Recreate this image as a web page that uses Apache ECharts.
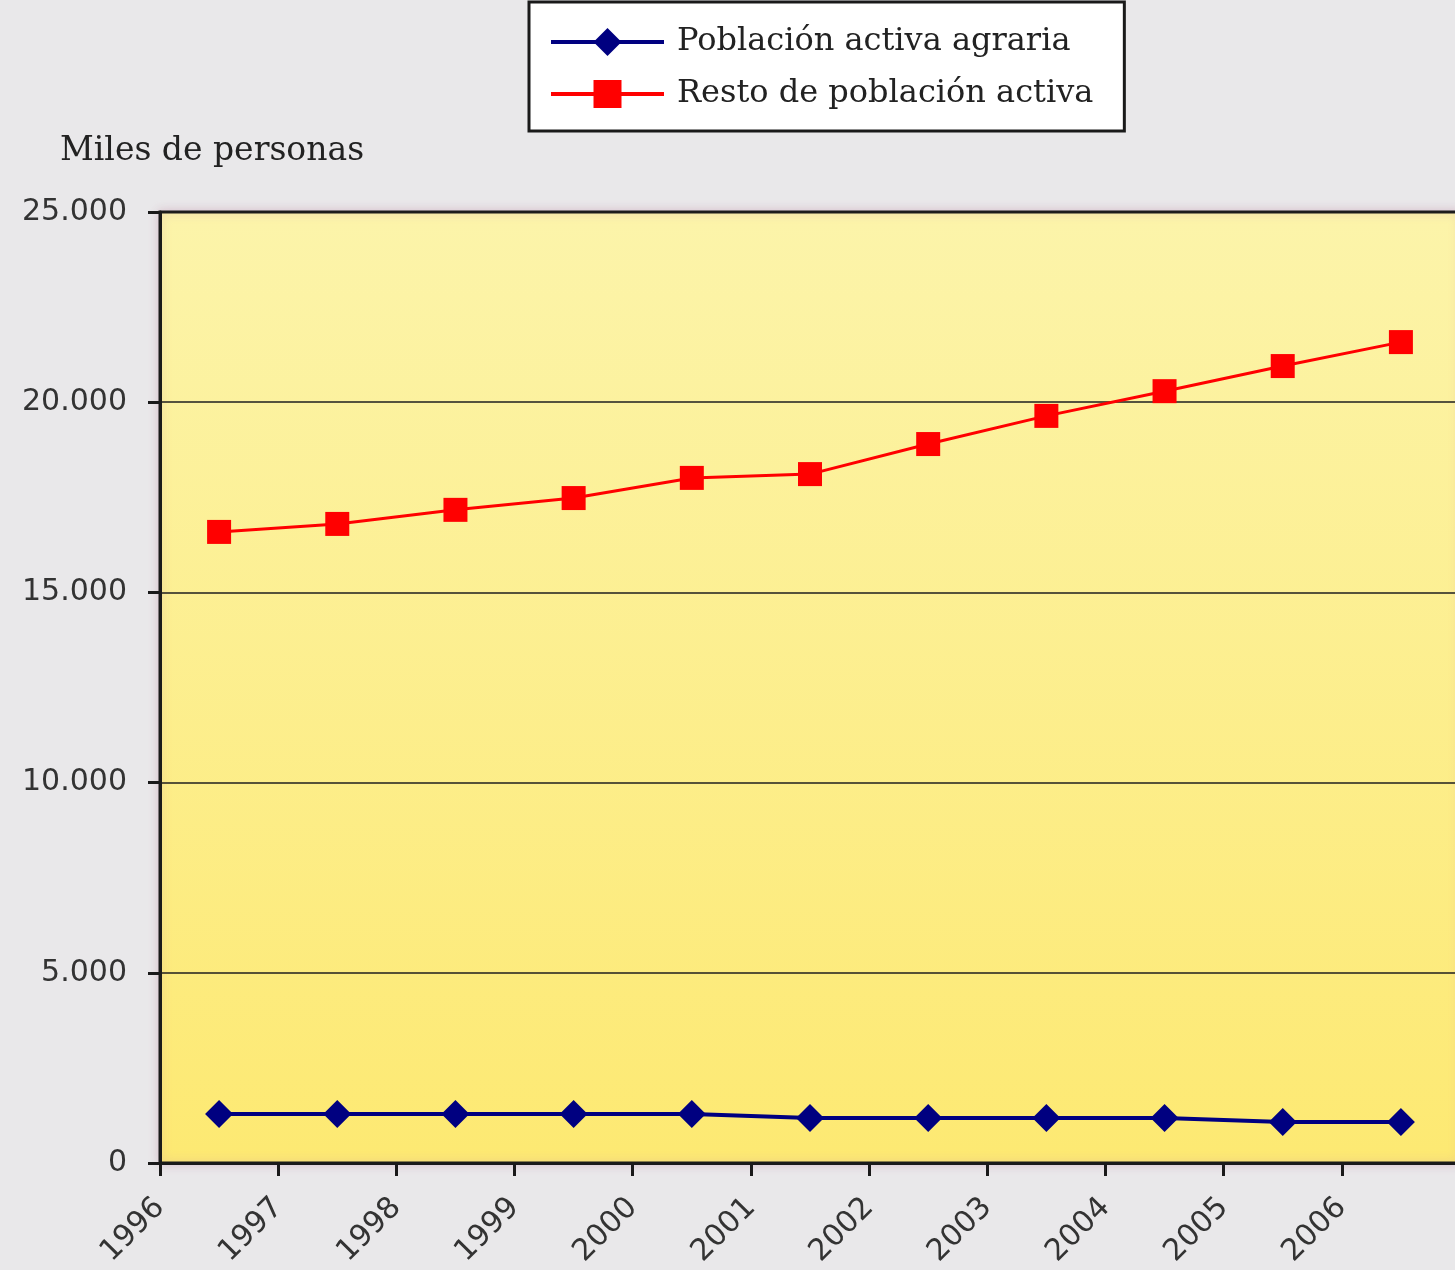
<!DOCTYPE html>
<html>
<head>
<meta charset="utf-8">
<script src="https://cdn.jsdelivr.net/npm/echarts@6/dist/echarts.min.js"></script>
<style>
  html, body { margin: 0; padding: 0; background: #e9e8ea; }
  #chart { width: 1455px; height: 1270px; }
</style>
</head>
<body>
<div id="chart"></div>
<script>
// años (cada punto va en el centro de su año)
const years = ['1996', '1997', '1998', '1999', '2000', '2001', '2002', '2003', '2004', '2005', '2006'];
// miles de personas
const agraria = [1290, 1290, 1290, 1290, 1290, 1180, 1180, 1180, 1180, 1080, 1080];
const resto = [16590, 16800, 17170, 17480, 18010, 18110, 18900, 19640, 20290, 20950, 21580];
const yTicks = [0, 5000, 10000, 15000, 20000, 25000];

const serifFont = '"DejaVu Serif", serif';
const sansFont = '"DejaVu Sans", sans-serif';

function pairs(vals) {
    return vals.map((v, i) => [Number(years[i]) + 0.5, v]);
}

const chart = echarts.init(document.getElementById('chart'));

const option = {
    backgroundColor: '#e9e8ea',
    animation: false,
    title: {
        text: 'Miles de personas',
        left: 60,
        top: 135,
        padding: 0,
        textStyle: { fontFamily: serifFont, fontSize: 33, fontWeight: 'normal', color: '#222' }
    },
    legend: {
        orient: 'vertical',
        left: 529,
        top: 2,
        padding: [24, 31, 21, 20],
        itemGap: 20,
        itemWidth: 113,
        itemHeight: 35,
        backgroundColor: '#ffffff',
        borderColor: '#1a1a1a',
        borderWidth: 3,
        borderRadius: 0,
        lineStyle: { width: 4 },
        textStyle: { fontFamily: serifFont, fontSize: 32, lineHeight: 32, color: '#222', padding: [0, 0, 0, 8] },
        data: ['Población activa agraria', 'Resto de población activa']
    },
    grid: {
        show: true,
        left: 160,
        top: 212,
        width: 1300,
        bottom: 107,
        outerBoundsMode: 'none',
        borderColor: '#1a1a1a',
        borderWidth: 3,
        backgroundColor: new echarts.graphic.LinearGradient(0, 0, 0, 1, [
            { offset: 0, color: '#fcf4aa' },
            { offset: 1, color: '#fde972' }
        ]),
        shadowColor: 'rgba(200,150,170,0.45)',
        shadowBlur: 10
    },
    xAxis: {
        type: 'value',
        min: 1996,
        max: 2007,
        interval: 1,
        axisLine: { lineStyle: { color: '#1a1a1a', width: 3 } },
        axisTick: { show: true, length: 13, lineStyle: { color: '#1a1a1a', width: 3 } },
        splitLine: { show: false },
        axisLabel: {
            rotate: 45,
            margin: 40,
            fontFamily: sansFont,
            fontSize: 30,
            color: '#333',
            formatter: v => (v <= 2006 ? String(v) : '')
        }
    },
    yAxis: {
        type: 'value',
        min: yTicks[0],
        max: yTicks[yTicks.length - 1],
        interval: 5000,
        axisLine: { show: true, lineStyle: { color: '#1a1a1a', width: 3 } },
        axisTick: { show: true, length: 12, lineStyle: { color: '#1a1a1a', width: 3 } },
        splitLine: { show: true, lineStyle: { color: '#1e1e1e', width: 1.5 } },
        axisLabel: {
            margin: 33,
            fontFamily: sansFont,
            fontSize: 30,
            color: '#333',
            padding: [8, 0, 0, 0],
            formatter: v => (v === 0 ? '0' : (v / 1000) + '.000')
        }
    },
    series: [
        {
            name: 'Población activa agraria',
            type: 'line',
            data: pairs(agraria),
            symbol: 'diamond',
            symbolSize: 28,
            itemStyle: { color: '#000080' },
            lineStyle: { color: '#000080', width: 4 },
            z: 3
        },
        {
            name: 'Resto de población activa',
            type: 'line',
            data: pairs(resto),
            symbol: 'rect',
            symbolSize: 24,
            itemStyle: { color: '#ff0000' },
            lineStyle: { color: '#ff0000', width: 3 },
            z: 4
        }
    ]
};

chart.setOption(option);
</script>
</body>
</html>
